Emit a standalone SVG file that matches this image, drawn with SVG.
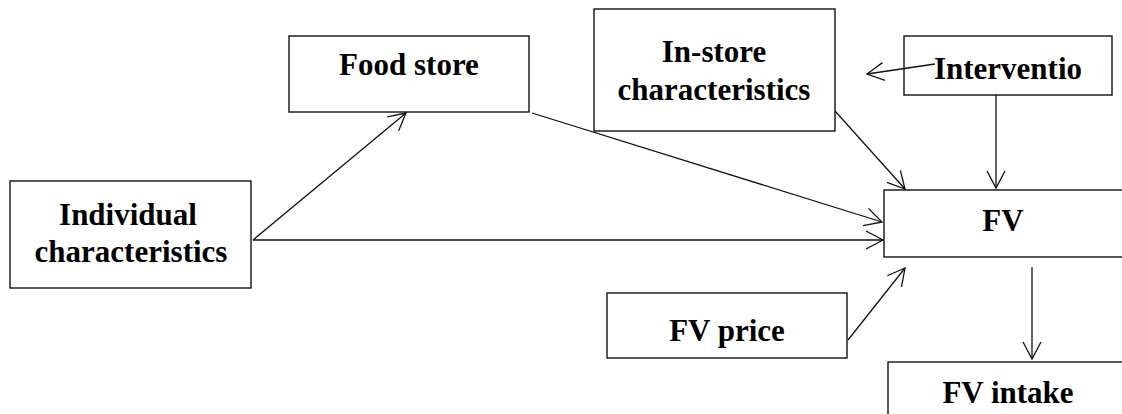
<svg xmlns="http://www.w3.org/2000/svg" width="1122" height="414" viewBox="0 0 1122 414">
<style>
.box{fill:#fff;stroke:#111;stroke-width:1.4}
.lbl{font-family:"Liberation Serif","Times New Roman",serif;font-weight:bold;font-size:31px;fill:#000;text-anchor:middle}
.edge{fill:none;stroke:#111;stroke-width:1.3;marker-end:url(#arr)}
</style>
<defs>
<marker id="arr" markerUnits="userSpaceOnUse" markerWidth="20" markerHeight="22" viewBox="0 0 20 22" refX="18" refY="11" orient="auto">
<path d="M1,2 L18,11 L1,20" fill="none" stroke="#111" stroke-width="1.3"/>
</marker>
</defs>
<rect width="1122" height="414" fill="#fff"/>
<g id="food-store"><rect class="box" x="289" y="36" width="240" height="76"/><text class="lbl" x="409" y="75">Food store</text></g>
<g id="in-store"><rect class="box" x="594" y="9" width="241" height="122"/><text class="lbl" x="714" y="62">In-store</text><text class="lbl" x="714" y="100">characteristics</text></g>
<g id="intervention"><rect class="box" x="904" y="36" width="208" height="59"/><text class="lbl" x="1008" y="79">Interventio</text></g>
<g id="individual"><rect class="box" x="10" y="181" width="241" height="107"/><text class="lbl" x="128" y="225">Individual</text><text class="lbl" x="131" y="262">characteristics</text></g>
<g id="fv"><rect class="box" x="884" y="190" width="240" height="67"/><text class="lbl" x="1003" y="231">FV</text></g>
<g id="fv-price"><rect class="box" x="607" y="293" width="240" height="65"/><text class="lbl" x="727" y="341">FV price</text></g>
<g id="fv-intake"><rect class="box" x="888" y="362" width="244" height="60"/><text class="lbl" x="1008" y="403">FV intake</text></g>
<g id="connectors">
<line class="edge" x1="253" y1="240" x2="406" y2="113"/>
<line class="edge" x1="253" y1="240" x2="883" y2="240"/>
<line class="edge" x1="532" y1="113" x2="882" y2="222"/>
<line class="edge" x1="835" y1="111" x2="905" y2="189"/>
<line class="edge" x1="996" y1="95" x2="996" y2="188"/>
<line class="edge" x1="935" y1="64" x2="867" y2="74"/>
<line class="edge" x1="848" y1="340" x2="905" y2="268"/>
<line class="edge" x1="1032" y1="267" x2="1032" y2="359"/>
</g>
</svg>
